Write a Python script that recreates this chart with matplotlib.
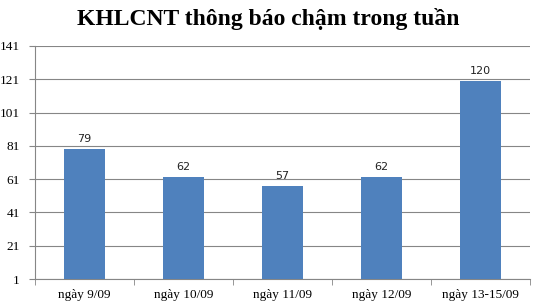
import numpy as np
from matplotlib import pyplot as plt

categories = ['ngày 9/09', 'ngày 10/09', 'ngày 11/09', 'ngày 12/09', 'ngày 13-15/09']
values = [79, 62, 57, 62, 120]
yticks = [1, 21, 41, 61, 81, 101, 121, 141]

bar_color = '#4F81BD'
grid_color = '#868686'

fig = plt.figure(figsize=(5.37, 3.05), dpi=100)
ax = fig.add_axes([35 / 537, 26 / 305, 495 / 537, 233 / 305])

x = np.arange(len(categories))
base = yticks[0]
ax.bar(x, [v - base for v in values], bottom=base, width=0.41, color=bar_color, zorder=3)
for xi, v in zip(x, values):
    ax.text(xi, v + 3, str(v), ha='center', va='bottom', fontsize=8,
            family='DejaVu Sans', color='#222222')

ax.set_xlim(-0.5, len(categories) - 0.5)
ax.set_ylim(yticks[0], yticks[-1])
ax.set_yticks(yticks)
ax.set_yticklabels([str(t) for t in yticks], family='Liberation Serif', fontsize=9.5)
ax.set_xticks(x)
ax.set_xticklabels(categories, family='Liberation Serif', fontsize=9.5)
ax.tick_params(axis='x', length=0, pad=7)
ax.tick_params(axis='y', length=4, color=grid_color, pad=7)
# category boundary ticks on x axis
ax.set_xticks(np.arange(-0.5, len(categories)), minor=True)
ax.tick_params(axis='x', which='minor', length=4, color=grid_color)

ax.grid(axis='y', color=grid_color, linewidth=0.8, zorder=0)
for s in ['top', 'right']:
    ax.spines[s].set_visible(False)
ax.spines['left'].set_color(grid_color)
ax.spines['bottom'].set_color(grid_color)

fig.text(0.5, 0.937, 'KHLCNT thông báo chậm trong tuần', ha='center', va='center',
         family='Liberation Serif', fontweight='bold', fontsize=17)

plt.savefig('out.png', dpi=100)
